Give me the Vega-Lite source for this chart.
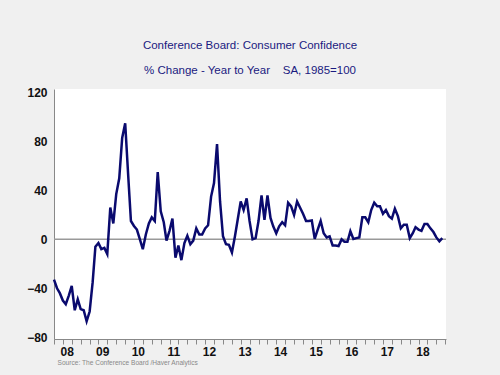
{
 "$schema": "https://vega.github.io/schema/vega-lite/v6.json",
 "width": 392, "height": 250,
 "autosize": {"type": "none"},
 "padding": {"left": 54, "top": 89, "right": 54, "bottom": 36},
 "background": "#f0f0f0",
 "view": {"fill": "white", "stroke": null},
 "title": {"text": "Conference Board: Consumer Confidence", "subtitle": "% Change - Year to Year\u00a0\u00a0\u00a0\u00a0SA, 1985=100", "anchor": "middle", "font": "Liberation Sans", "fontSize": 11.5, "fontWeight": "normal", "color": "#1a1a80", "subtitleFont": "Liberation Sans", "subtitleFontSize": 11.5, "subtitleColor": "#1a1a80", "subtitlePadding": 14, "offset": 10},
 "layer": [
  {
   "data": {"values": [{"zero": 0}]},
   "mark": {"type": "rule", "color": "#999999", "strokeWidth": 1.5},
   "encoding": {"y": {"field": "zero", "type": "quantitative"}}
  },
  {
   "data": {"values": [
    {"date":"2008-01-01","v":-33},{"date":"2008-02-01","v":-40},{"date":"2008-03-01","v":-44},{"date":"2008-04-01","v":-50},{"date":"2008-05-01","v":-53},{"date":"2008-06-01","v":-46},{"date":"2008-07-01","v":-38},{"date":"2008-08-01","v":-58},{"date":"2008-09-01","v":-49},{"date":"2008-10-01","v":-57},{"date":"2008-11-01","v":-58},{"date":"2008-12-01","v":-67},
    {"date":"2009-01-01","v":-59},{"date":"2009-02-01","v":-35},{"date":"2009-03-01","v":-6},{"date":"2009-04-01","v":-3},{"date":"2009-05-01","v":-8},{"date":"2009-06-01","v":-7},{"date":"2009-07-01","v":-12},{"date":"2009-08-01","v":26},{"date":"2009-09-01","v":13},{"date":"2009-10-01","v":37},{"date":"2009-11-01","v":50},{"date":"2009-12-01","v":83},
    {"date":"2010-01-01","v":95},{"date":"2010-02-01","v":52},{"date":"2010-03-01","v":15},{"date":"2010-04-01","v":11},{"date":"2010-05-01","v":8},{"date":"2010-06-01","v":0},{"date":"2010-07-01","v":-8},{"date":"2010-08-01","v":4},{"date":"2010-09-01","v":13},{"date":"2010-10-01","v":18},{"date":"2010-11-01","v":15},{"date":"2010-12-01","v":55},
    {"date":"2011-01-01","v":23},{"date":"2011-02-01","v":14},{"date":"2011-03-01","v":-1},{"date":"2011-04-01","v":7},{"date":"2011-05-01","v":17},{"date":"2011-06-01","v":-15},{"date":"2011-07-01","v":-5},{"date":"2011-08-01","v":-17},{"date":"2011-09-01","v":-3},{"date":"2011-10-01","v":3},{"date":"2011-11-01","v":-4},{"date":"2011-12-01","v":-1},
    {"date":"2012-01-01","v":9},{"date":"2012-02-01","v":4},{"date":"2012-03-01","v":4},{"date":"2012-04-01","v":9},{"date":"2012-05-01","v":11.5},{"date":"2012-06-01","v":35},{"date":"2012-07-01","v":46},{"date":"2012-08-01","v":78},{"date":"2012-09-01","v":31},{"date":"2012-10-01","v":2.5},{"date":"2012-11-01","v":-4},{"date":"2012-12-01","v":-4.5},
    {"date":"2013-01-01","v":-10.7},{"date":"2013-02-01","v":2.5},{"date":"2013-03-01","v":16},{"date":"2013-04-01","v":31},{"date":"2013-05-01","v":24},{"date":"2013-06-01","v":33.5},{"date":"2013-07-01","v":15},{"date":"2013-08-01","v":0},{"date":"2013-09-01","v":1},{"date":"2013-10-01","v":15},{"date":"2013-11-01","v":36},{"date":"2013-12-01","v":16},
    {"date":"2014-01-01","v":36},{"date":"2014-02-01","v":17.5},{"date":"2014-03-01","v":10.7},{"date":"2014-04-01","v":5},{"date":"2014-05-01","v":10.7},{"date":"2014-06-01","v":14},{"date":"2014-07-01","v":11.5},{"date":"2014-08-01","v":30},{"date":"2014-09-01","v":27},{"date":"2014-10-01","v":20},{"date":"2014-11-01","v":31},{"date":"2014-12-01","v":26},
    {"date":"2015-01-01","v":21},{"date":"2015-02-01","v":15},{"date":"2015-03-01","v":15},{"date":"2015-04-01","v":15.4},{"date":"2015-05-01","v":0.5},{"date":"2015-06-01","v":8},{"date":"2015-07-01","v":15},{"date":"2015-08-01","v":5},{"date":"2015-09-01","v":1.6},{"date":"2015-10-01","v":2.5},{"date":"2015-11-01","v":-5},{"date":"2015-12-01","v":-5},
    {"date":"2016-01-01","v":-5.5},{"date":"2016-02-01","v":0},{"date":"2016-03-01","v":-2},{"date":"2016-04-01","v":-2},{"date":"2016-05-01","v":6.6},{"date":"2016-06-01","v":0.3},{"date":"2016-07-01","v":1},{"date":"2016-08-01","v":1.6},{"date":"2016-09-01","v":18},{"date":"2016-10-01","v":18},{"date":"2016-11-01","v":14},{"date":"2016-12-01","v":24},
    {"date":"2017-01-01","v":30},{"date":"2017-02-01","v":27},{"date":"2017-03-01","v":27},{"date":"2017-04-01","v":21},{"date":"2017-05-01","v":24},{"date":"2017-06-01","v":19},{"date":"2017-07-01","v":17},{"date":"2017-08-01","v":25},{"date":"2017-09-01","v":19},{"date":"2017-10-01","v":9},{"date":"2017-11-01","v":12},{"date":"2017-12-01","v":12},
    {"date":"2018-01-01","v":1},{"date":"2018-02-01","v":5},{"date":"2018-03-01","v":10},{"date":"2018-04-01","v":8},{"date":"2018-05-01","v":7},{"date":"2018-06-01","v":12.6},{"date":"2018-07-01","v":12.6},{"date":"2018-08-01","v":9},{"date":"2018-09-01","v":6},{"date":"2018-10-01","v":1.6},{"date":"2018-11-01","v":-1.6},{"date":"2018-12-01","v":1}
   ]},
   "mark": {"type": "line", "color": "#0a0a6e", "strokeWidth": 2.5, "strokeJoin": "miter"},
   "encoding": {
    "x": {"field": "date", "type": "temporal",
     "scale": {"type": "utc", "domain": [{"year": 2008, "month": 1, "date": 1, "utc": true}, {"year": 2019, "month": 1, "date": 8, "utc": true}]},
     "axis": {"tickCount": {"interval": "month", "step": 3}, "labelExpr": "utcmonth(datum.value) == 6 ? utcFormat(datum.value, '%y') : ''", "labelOverlap": false, "labelFlush": false, "labelOffset": -5, "grid": false, "tickSize": 5, "tickColor": "#888888", "domainColor": "#888888", "labelFont": "Liberation Sans", "labelFontSize": 12, "labelFontWeight": "bold", "labelColor": "#111111", "labelPadding": 2,
      "title": "Source:  The Conference Board /Haver Analytics", "titleAnchor": "start", "titleAlign": "left", "titleX": 3, "titleFont": "Liberation Sans", "titleFontSize": 6.6, "titleFontWeight": "normal", "titleColor": "#888888", "titlePadding": 2}},
    "y": {"field": "v", "type": "quantitative",
     "scale": {"domain": [-81.5, 123], "nice": false, "zero": false},
     "axis": {"values": [-80, -40, 0, 40, 80, 120], "ticks": false, "grid": false, "labelPadding": 7, "domainColor": "#888888", "title": null, "labelFont": "Liberation Sans", "labelFontSize": 12, "labelFontWeight": "bold", "labelColor": "#111111"}}
   }
  }
 ]
}
